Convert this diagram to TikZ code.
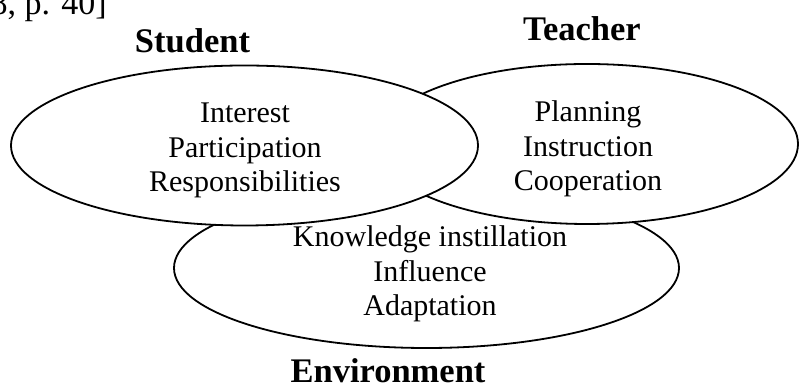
\documentclass[tikz,border=0pt]{standalone}
\usepackage{fontspec}
\setmainfont{Liberation Serif}
\usetikzlibrary{shapes.geometric}
\tikzset{
  circ/.style={ellipse, draw=black, line width=1.8pt, fill=white, inner sep=0pt},
  body/.style={anchor=base, inner sep=0pt, font=\fontsize{30}{34.5}\selectfont},
  title/.style={anchor=base, inner sep=0pt, font=\fontsize{34.5}{40}\selectfont\bfseries}
}
\begin{document}
\begin{tikzpicture}[x=1pt,y=1pt]
\useasboundingbox (0,0) rectangle (800,387);
\clip (0,0) rectangle (800,387);
% ellipses (environment below, then teacher, then student on top)
\node[circ, minimum width=505pt, minimum height=160pt] (env) at (426.5,119) {};
\node[circ, minimum width=422pt, minimum height=160pt] (teacher) at (587,243) {};
\node[circ, minimum width=467pt, minimum height=160pt] (student) at (244.5,241.5) {};
% contents
\node[body] (stxt) at (245,264) {\begin{tabular}[t]{@{}c@{}}Interest\\ Participation\\ Responsibilities\end{tabular}};
\node[body] (ttxt) at (588,265) {\begin{tabular}[t]{@{}c@{}}Planning\\ Instruction\\ Cooperation\end{tabular}};
\node[body] (etxt) at (430,140) {\begin{tabular}[t]{@{}c@{}}Knowledge instillation\\ Influence\\ Adaptation\end{tabular}};
% titles
\node[title] (slabel) at (192.5,334) {Student};
\node[title] (tlabel) at (582,346) {Teacher};
\node[title] (elabel) at (388,4) {Environment};
% citation fragment
\node[anchor=base east, inner sep=0pt, font=\fontsize{34}{40}\selectfont] (cite) at (107,372) {[8, p. 40]};
\end{tikzpicture}
\end{document}
